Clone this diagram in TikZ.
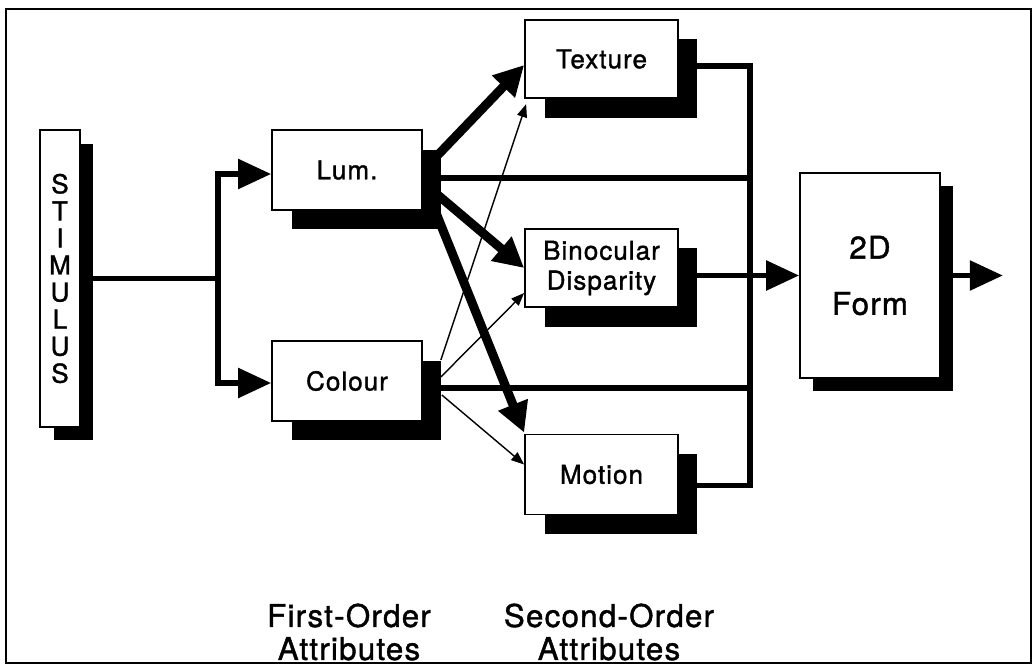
\documentclass[tikz,border=0pt]{standalone}
\usepackage{fontspec}
\setmainfont{TeX Gyre Heros}[LetterSpace=4, FakeBold=1.3]
\usetikzlibrary{arrows.meta,shadows,calc}
\begin{document}
\begin{tikzpicture}[x=0.02cm, y=-0.02cm, line join=miter]
	\tikzset{box/.style={draw, line width=1pt, fill=white, minimum width=3cm, minimum height=1.6cm, inner sep=0pt, align=center,
			font=\fontsize{14.8}{17}\selectfont,
			general shadow={shadow xshift=#1, shadow yshift=-#1, fill=black}},
		box/.default=0.39cm,
		bus/.style={line width=0.11cm},
		heavy/.style={line width=0.18cm, -{Triangle[length=0.6cm,width=0.6cm]}},
		thin/.style={line width=0.8pt, -{Triangle[length=0.26cm,width=0.2cm]}},
		head/.style={-{Triangle[length=0.66cm,width=0.58cm]}},
		caption/.style={font=\fontsize{17.8}{18.8}\selectfont, align=center}}
	\useasboundingbox (0,0) rectangle (1035,666);
	\draw[line width=1.1pt] (6,9) rectangle (1031,663);
	% boxes
	\node[box=0.27cm, minimum width=0.8cm, minimum height=5.94cm, font=\fontsize{14.8}{15.4}\selectfont] (stim) at (60,278.5) {S\\T\\I\\M\\U\\L\\U\\S};
	\node[box] (lum) at (347,170) {Lum.};
	\node[box] (col) at (347,381) {Colour};
	\node[box, minimum width=3.06cm, minimum height=1.57cm] (tex) at (601.5,59) {Texture};
	\node[box, minimum width=3.06cm, minimum height=1.57cm] (bin) at (601.5,268) {Binocular\\Disparity};
	\node[box, minimum width=3.06cm, minimum height=1.6cm] (mot) at (601.5,474.5) {Motion};
	\node[box=0.26cm, minimum width=2.8cm, minimum height=4.1cm, font=\fontsize{17.8}{32}\selectfont] (form) at (870,275.5) {2D\\Form};
	% stimulus split
	\coordinate (split) at ($(stim.east)+(137,0)$);
	\coordinate (bus) at (750,0);
	\draw[bus] (stim.east) -- (split);
	\draw[bus, head] (split) |- ($(lum.west)+(0,4)$);
	\draw[bus, head] (split) |- ($(col.west)+(0,2)$);
	% first to second order
	\draw[heavy] ($(lum.east)+(15,-15)$) -- ($(tex.west)+(0,6)$);
	\draw[heavy] ($(lum.east)+(15,25)$) -- (bin.west);
	\draw[heavy] ($(lum.east)+(10,35)$) -- ($(mot.north west)+(0,-1)$);
	\draw[thin] ($(col.east)+(18,-21)$) -- ($(tex.south west)+(2,5)$);
	\draw[thin] ($(col.east)+(18,-4)$) -- ($(bin.west)+(0,25)$);
	\draw[thin] ($(col.east)+(19,14)$) -- ($(mot.west)+(0,-10)$);
	% collecting bus
	\draw[bus] ($(tex.east)+(0,7)$) -| ($(bus |- mot.east)+(0,11)$) -- ($(mot.east)+(0,11)$);
	\draw[bus] ($(lum.east)+(0,8)$) coordinate (lo) -- (lo -| bus);
	\draw[bus] ($(col.east)+(0,7)$) coordinate (co) -- (co -| bus);
	\draw[bus, head] (bin.east |- form.west) -- (form.west);
	\coordinate (out) at ($(form.east)+(62,0)$);
	\draw[bus, head] (form.east) -- (out);
	% captions
	\node[caption] (first) at (349,632) {First-Order\\Attributes};
	\node[caption] (second) at (609,632) {Second-Order\\Attributes};
\end{tikzpicture}
\end{document}
